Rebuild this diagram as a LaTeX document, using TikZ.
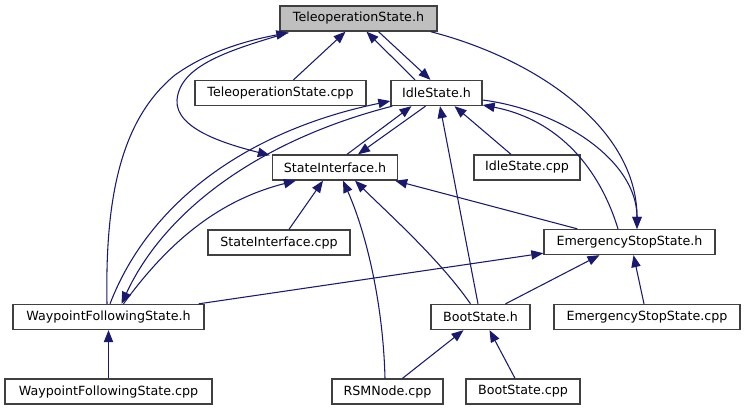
\documentclass[tikz,border=0pt]{standalone}
\usepackage{fontspec}
\setmainfont{DejaVu Sans}
\usetikzlibrary{arrows.meta,calc}
\definecolor{edgeblue}{HTML}{191970}
\definecolor{boxgrey}{HTML}{404040}
\definecolor{rootfill}{HTML}{BFBFBF}
\tikzset{
  file/.style={draw=boxgrey, line width=1pt, fill=white, inner sep=0pt,
    minimum height=25*0.75pt, font=\fontsize{9.5pt}{11pt}\selectfont, anchor=center},
  rootfile/.style={file, fill=rootfill},
  dep/.style={draw=edgeblue, line width=0.8pt,
    -{Triangle[length=9pt,width=7pt]}}
}
\begin{document}
\begin{tikzpicture}[x=0.75pt,y=-0.75pt]
\useasboundingbox (0,0) rectangle (745,411);
% nodes
\node[rootfile, minimum width=157*0.75pt] (ts) at (358.5,18.5) {TeleoperationState.h};
\node[file, minimum width=171*0.75pt] (tscpp) at (280.5,93) {TeleoperationState.cpp};
\node[file, minimum width=91*0.75pt] (idle) at (436.5,93) {IdleState.h};
\node[file, minimum width=125*0.75pt] (si) at (335,167.5) {StateInterface.h};
\node[file, minimum width=106*0.75pt] (idlecpp) at (527,167.5) {IdleState.cpp};
\node[file, minimum width=142*0.75pt] (sicpp) at (279,242.5) {StateInterface.cpp};
\node[file, minimum width=171*0.75pt] (ess) at (629.5,242) {EmergencyStopState.h};
\node[file, minimum width=191*0.75pt] (wfs) at (108.5,317) {WaypointFollowingState.h};
\node[file, minimum width=99*0.75pt] (boot) at (480.5,317) {BootState.h};
\node[file, minimum width=186*0.75pt] (esscpp) at (647,317) {EmergencyStopState.cpp};
\node[file, minimum width=207*0.75pt] (wfscpp) at (108.5,391.5) {WaypointFollowingState.cpp};
\node[file, minimum width=111*0.75pt] (rsm) at (387.5,391.5) {RSMNode.cpp};
\node[file, minimum width=114*0.75pt] (bootcpp) at (523,391.5) {BootState.cpp};
% edges into TeleoperationState.h
\draw[dep] ($(tscpp.north)+(13,0)$) -- ($(ts.south)+(-13,0)$);
\draw[dep] ($(idle.north)+(-21.5,0)$) -- ($(ts.south)+(8,0)$);
\draw[dep] ($(wfs.north)+(-1.5,0)$) .. controls (105,200) and (120,120) .. (175,75)
  .. controls (210,50) and (250,40) .. ($(ts.south west)+(9,1)$);
% edges out of TeleoperationState.h
\draw[dep] ($(ts.south)+(20,0)$) -- ($(idle.north)+(-6,0)$);
\draw[dep] ($(ts.south west)+(9,1)$) .. controls (230,50) and (180,65) .. (177,100)
  .. controls (175,130) and (230,145) .. ($(si.north west)+(-2,1)$);
\draw[dep] ($(ts.south east)+(-7,0)$) .. controls (540,60) and (637,130) .. ($(ess.north)+(7.5,0)$);
% edges into IdleState.h
\draw[dep] ($(idlecpp.north)+(-16,0)$) -- ($(idle.south)+(18,0)$);
\draw[dep] ($(boot.north)+(-2.5,0)$) -- ($(idle.south)+(3.5,0)$);
\draw[dep] ($(si.north)+(12,0)$) -- ($(idle.south)+(-25,0)$);
\draw[dep] ($(wfs.north)+(1.5,0)$) .. controls (150,200) and (250,130) .. ($(idle.west)+(0,8)$);
\draw[dep] ($(ess.north)+(-11.5,0)$) .. controls (600,170) and (560,120) .. ($(idle.east)+(0,12)$);
% edges out of IdleState.h
\draw[dep] ($(idle.south)+(-11,0)$) -- ($(si.north)+(23,0)$);
\draw[dep] ($(idle.south west)+(2,0)$) .. controls (260,140) and (165,210) .. ($(wfs.north)+(13,0)$);
\draw[dep] ($(idle.east)+(0,7)$) .. controls (560,110) and (637,160) .. ($(ess.north)+(7.5,0)$);
% edges into StateInterface.h
\draw[dep] ($(wfs.north)+(15,0)$) .. controls (170,240) and (220,200) .. ($(si.south west)+(24,0)$);
\draw[dep] ($(sicpp.north)+(10,0)$) -- ($(si.south)+(-12,0)$);
\draw[dep] ($(rsm.north)+(-2.5,0)$) .. controls (383,300) and (365,230) .. ($(si.south)+(8,0)$);
\draw[dep] ($(boot.north)+(-10,0)$) .. controls (440,260) and (390,215) .. ($(si.south)+(20,0)$);
\draw[dep] ($(ess.north west)+(34,0)$) -- ($(si.south east)+(-3,0)$);
% edges into EmergencyStopState.h
\draw[dep] ($(wfs.north east)+(-6,0)$) -- ($(ess.south west)+(0,-2)$);
\draw[dep] ($(boot.north)+(25,0)$) -- ($(ess.south)+(-30,0)$);
\draw[dep] ($(esscpp.north)+(-3,0)$) -- ($(ess.south)+(4,0)$);
% edges into BootState.h
\draw[dep] ($(rsm.north)+(15,0)$) -- ($(boot.south)+(-17,0)$);
\draw[dep] ($(bootcpp.north)+(-8,0)$) -- ($(boot.south)+(9,0)$);
% edge into WaypointFollowingState.h
\draw[dep] (wfscpp.north) -- (wfs.south);
\end{tikzpicture}
\end{document}
